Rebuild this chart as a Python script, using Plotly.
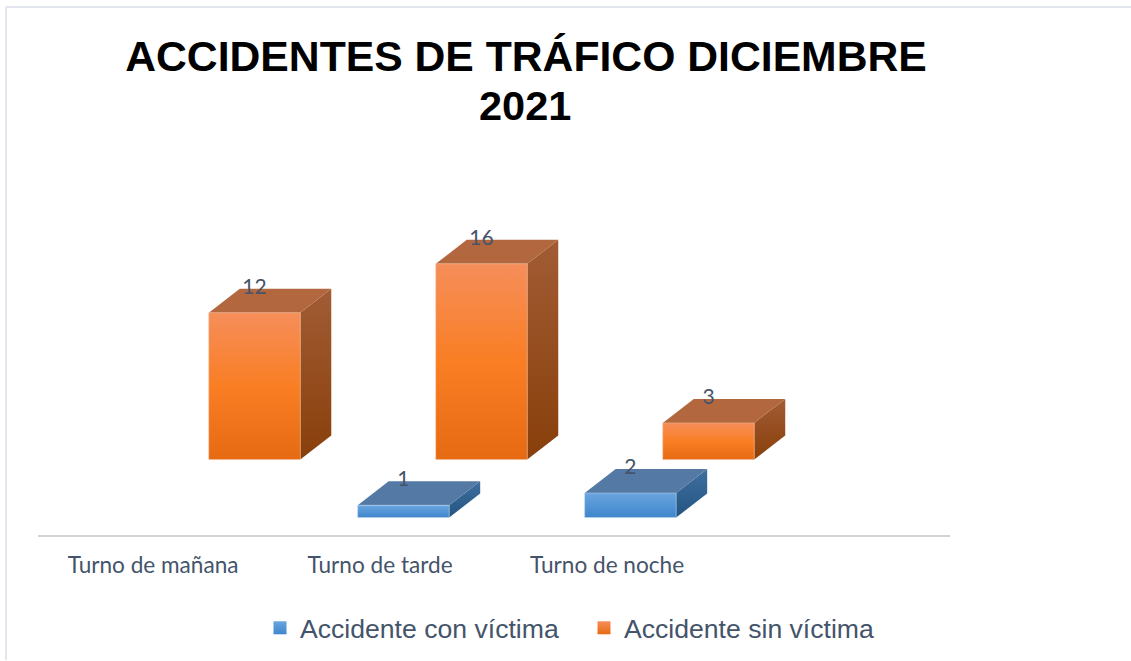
import plotly.graph_objects as go

# ---- data ----
title_lines = ["ACCIDENTES DE TRÁFICO DICIEMBRE", "2021"]
categories = ["Turno de mañana", "Turno de tarde", "Turno de noche"]
con_victima = [None, 1, 2]
sin_victima = [12, 16, 3]

# ---- chart geometry, in axis units ----
BAR_W = 0.403
DEPTH_X = 0.1366
DEPTH_Y = 1.96
LABEL_LIFT = 2.0
TICK_SHIFT = -0.275
INK = "#44546a"

series = [
    dict(name="Accidente con víctima", values=con_victima, xoff=-0.172, base=0.0,
         front=["#6aa5df", "#3f86cc"], top="#5479a4", side=["#3f6f9e", "#245482"],
         edge="rgba(190,215,240,0.5)", swatch=["#6aa5df", "#3f86cc"]),
    dict(name="Accidente sin víctima", values=sin_victima, xoff=0.172, base=4.735,
         front=["#f68e5a", "#f97e24", "#e66a12"], top="#b3673f", side=["#a25c34", "#883f0b"],
         edge="rgba(245,190,150,0.5)", swatch=["#f68e5a", "#e66a12"]),
]


def scale(cols):
    n = len(cols) - 1
    return [[i / n, c] for i, c in enumerate(cols)]


fig = go.Figure()
label_x, label_y, label_t = [], [], []

for s in series:
    for i, v in enumerate(s["values"]):
        if v is None:
            continue
        x0 = i + s["xoff"] - BAR_W / 2
        x1 = x0 + BAR_W
        y0 = s["base"]
        y1 = y0 + v
        # right side face
        fig.add_trace(go.Scatter(
            x=[x1, x1 + DEPTH_X, x1 + DEPTH_X, x1, x1],
            y=[y0, y0 + DEPTH_Y, y1 + DEPTH_Y, y1, y0],
            mode="lines", line=dict(width=0), fill="toself",
            fillgradient=dict(type="vertical", colorscale=scale(s["side"][::-1])),
            showlegend=False, hoverinfo="skip"))
        # top face
        fig.add_trace(go.Scatter(
            x=[x0, x1, x1 + DEPTH_X, x0 + DEPTH_X, x0],
            y=[y1, y1, y1 + DEPTH_Y, y1 + DEPTH_Y, y1],
            mode="lines", line=dict(width=0), fill="toself", fillcolor=s["top"],
            showlegend=False, hoverinfo="skip"))
        # front face
        fig.add_trace(go.Scatter(
            x=[x0, x1, x1, x0, x0],
            y=[y0, y0, y1, y1, y0],
            mode="lines", line=dict(width=1, color=s["edge"]), fill="toself",
            fillgradient=dict(type="vertical", colorscale=scale(s["front"][::-1])),
            showlegend=False, name=s["name"]))
        label_x.append(i + s["xoff"])
        label_y.append(y1 + LABEL_LIFT)
        label_t.append(str(v))
    # legend entry
    fig.add_trace(go.Scatter(
        x=[None], y=[None], mode="markers", name=s["name"],
        marker=dict(symbol="square", size=13, color=s["swatch"][0],
                    gradient=dict(type="vertical", color=s["swatch"][1]))))

fig.add_trace(go.Scatter(
    x=label_x, y=label_y, text=label_t, mode="text", textposition="middle center",
    textfont=dict(family="Lato", size=21, color=INK),
    showlegend=False, hoverinfo="skip"))

PW, PH = 912, 385
fig.update_layout(
    width=1131, height=661,
    margin=dict(l=38, r=181, t=150, b=126, autoexpand=False),
    paper_bgcolor="white", plot_bgcolor="white",
    title=dict(text=title_lines[0], xref="container", yref="container",
               x=526 / 1131, xanchor="center", y=1 - 56 / 661, yanchor="middle",
               font=dict(family="Liberation Sans", size=42.7, color="black", weight="bold")),
    annotations=[dict(text=title_lines[1], xref="paper", yref="paper",
                      x=(525 - 38) / PW, y=(535 - 105) / PH, xanchor="center", yanchor="middle",
                      showarrow=False,
                      font=dict(family="Liberation Sans", size=41.5, color="black", weight="bold"))],
    xaxis=dict(range=[-0.782, 3.236], showgrid=False, zeroline=False,
               showline=True, linecolor="#d0d3d8", linewidth=2,
               tickmode="array", tickvals=[i + TICK_SHIFT for i in range(3)],
               ticktext=categories, ticks="", ticklabelstandoff=9,
               tickfont=dict(family="Lato", size=22.6, color=INK), fixedrange=True),
    yaxis=dict(range=[-1.43, 30.04], visible=False, fixedrange=True),
    legend=dict(orientation="h", x=(260 - 38) / PW, xanchor="left",
                y=-(628 - 535) / PH, yanchor="middle",
                entrywidth=279, entrywidthmode="pixels",
                font=dict(family="Liberation Sans", size=26.6, color=INK),
                bgcolor="rgba(0,0,0,0)"),
    shapes=[
        dict(type="line", xref="paper", yref="paper", x0=-32 / PW, x1=1093 / PW,
             y0=(535 - 7) / PH, y1=(535 - 7) / PH, line=dict(color="#e2e5ed", width=2)),
        dict(type="line", xref="paper", yref="paper", x0=-32 / PW, x1=-32 / PW,
             y0=(535 - 7) / PH, y1=-(660 - 535) / PH, line=dict(color="#e2e5ed", width=2)),
    ],
)

fig.write_html("out.html", config={"displayModeBar": False},
               post_script="document.body.style.margin='0';")
